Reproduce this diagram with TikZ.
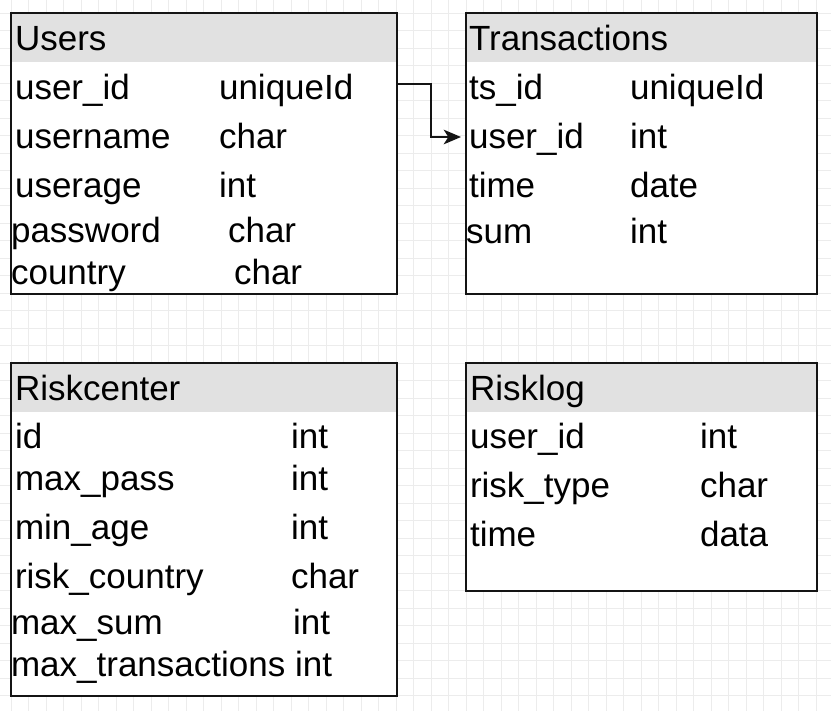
\documentclass[tikz,border=0pt]{standalone}
\usepackage{fontspec}
\setmainfont{Liberation Sans}
\usetikzlibrary{arrows.meta}
\definecolor{gridc}{RGB}{236,236,236}
\definecolor{headc}{RGB}{225,225,225}
\definecolor{linec}{RGB}{20,20,20}
\begin{document}
\begin{tikzpicture}[x=0.75pt,y=-0.75pt,
  tbl/.style={draw=linec,line width=1.1pt,fill=white,rectangle,inner sep=0pt,anchor=north west,minimum width=385*0.75pt},
  hdr/.style={fill=headc,draw=none,rectangle,inner sep=0pt,anchor=north west,minimum width=385*0.75pt,minimum height=49*0.75pt},
  txt/.style={inner sep=0pt,anchor=base west,xshift=-0.9pt,yshift=-0.4pt,font=\fontsize{26.25}{30}\selectfont},
  conn/.style={draw=linec,line width=1.1pt,-{Stealth[length=13pt,width=11pt,inset=3.5pt]}}
]
\useasboundingbox (0,0) rectangle (831,711);
\fill[white] (0,0) rectangle (831,711);
% grid
\foreach \k in {0,...,46} {\draw[gridc,line width=0.6pt] ({11+17.5*\k},0) -- ({11+17.5*\k},711);}
\foreach \k in {0,...,39} {\draw[gridc,line width=0.6pt] (0,{13+17.5*\k}) -- (831,{13+17.5*\k});}

% Users table
\node[tbl,minimum height=280*0.75pt] (users) at (11,13) {};
\node[hdr] (usersh) at (11,13) {};
\draw[linec,line width=1.1pt] (users.north west) rectangle (users.south east);
\node[txt] (u0) at (16,50) {Users};
\node[txt] (u1) at (16,99) {user\_id};
\node[txt] (u1t) at (220,99) {uniqueId};
\node[txt] (u2) at (16,148) {username};
\node[txt] (u2t) at (220,148) {char};
\node[txt] (u3) at (16,197) {userage};
\node[txt] (u3t) at (220,197) {int};
\node[txt] (u4) at (12,242) {password};
\node[txt] (u4t) at (229,242) {char};
\node[txt] (u5) at (12,284) {country};
\node[txt] (u5t) at (235,284) {char};

% Transactions table
\node[tbl,minimum width=350*0.75pt,minimum height=280*0.75pt] (trans) at (466,13) {};
\node[hdr,minimum width=350*0.75pt] (transh) at (466,13) {};
\draw[linec,line width=1.1pt] (trans.north west) rectangle (trans.south east);
\node[txt] (t0) at (470,50) {Transactions};
\node[txt] (t1) at (470,99) {ts\_id};
\node[txt] (t1t) at (631,99) {uniqueId};
\node[txt] (t2) at (470,148) {user\_id};
\node[txt] (t2t) at (631,148) {int};
\node[txt] (t3) at (470,197) {time};
\node[txt] (t3t) at (631,197) {date};
\node[txt] (t4) at (467,243) {sum};
\node[txt] (t4t) at (631,243) {int};

% Riskcenter table
\node[tbl,minimum height=332*0.75pt] (risk) at (11,363) {};
\node[hdr] (riskh) at (11,363) {};
\draw[linec,line width=1.1pt] (risk.north west) rectangle (risk.south east);
\node[txt] (r0) at (16,400) {Riskcenter};
\node[txt] (r1) at (16,448) {id};
\node[txt] (r1t) at (292,448) {int};
\node[txt] (r2) at (16,490) {max\_pass};
\node[txt] (r2t) at (292,490) {int};
\node[txt] (r3) at (16,539) {min\_age};
\node[txt] (r3t) at (292,539) {int};
\node[txt] (r4) at (16,588) {risk\_country};
\node[txt] (r4t) at (292,588) {char};
\node[txt] (r5) at (12,634) {max\_sum};
\node[txt] (r5t) at (294,634) {int};
\node[txt] (r6) at (12,676) {max\_transactions};
\node[txt] (r6t) at (296,676) {int};

% Risklog table
\node[tbl,minimum width=350*0.75pt,minimum height=227*0.75pt] (rlog) at (466,363) {};
\node[hdr,minimum width=350*0.75pt] (rlogh) at (466,363) {};
\draw[linec,line width=1.1pt] (rlog.north west) rectangle (rlog.south east);
\node[txt] (l0) at (471,400) {Risklog};
\node[txt] (l1) at (471,448) {user\_id};
\node[txt] (l1t) at (701,448) {int};
\node[txt] (l2) at (471,497) {risk\_type};
\node[txt] (l2t) at (701,497) {char};
\node[txt] (l3) at (471,546) {time};
\node[txt] (l3t) at (701,546) {data};

% connector
\coordinate (ua) at (396,84);
\coordinate (tb) at (461,137);
\draw[conn] (ua) -- (431,84) |- (tb);
\end{tikzpicture}
\end{document}
